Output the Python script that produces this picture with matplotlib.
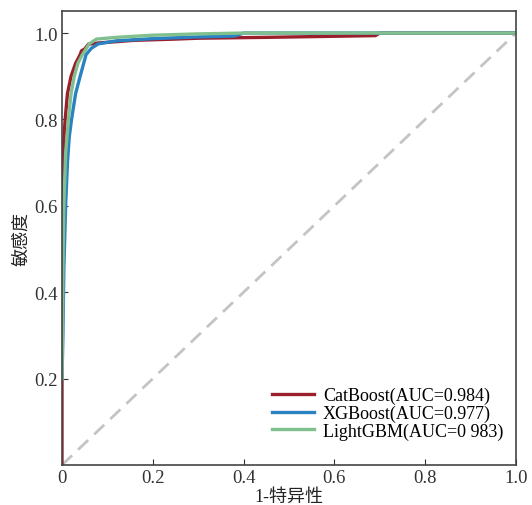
import numpy as np
import matplotlib
matplotlib.use('agg')
import matplotlib.pyplot as plt

plt.rcParams['font.family'] = ['Liberation Serif', 'Noto Sans CJK SC']

# ROC points
cat_fpr = [0, 0, 0.002, 0.005, 0.007, 0.012, 0.02, 0.03, 0.04, 0.043, 0.05, 0.058, 0.08, 0.12, 0.157, 0.25, 0.30, 0.45, 0.69, 0.70, 1.0]
cat_tpr = [0, 0.65, 0.72, 0.77, 0.80, 0.86, 0.90, 0.93, 0.95, 0.959, 0.963, 0.974, 0.977, 0.980, 0.983, 0.986, 0.988, 0.990, 0.994, 1.0, 1.0]

xgb_fpr = [0, 0.002, 0.004, 0.008, 0.012, 0.016, 0.021, 0.03, 0.04, 0.053, 0.065, 0.08, 0.12, 0.2, 0.3, 0.38, 0.40, 1.0]
xgb_tpr = [0.2, 0.3, 0.45, 0.6, 0.7, 0.76, 0.80, 0.86, 0.90, 0.95, 0.965, 0.975, 0.982, 0.987, 0.991, 0.993, 1.0, 1.0]

lgb_fpr = [0, 0.002, 0.004, 0.008, 0.014, 0.02, 0.027, 0.035, 0.045, 0.06, 0.076, 0.12, 0.2, 0.3, 0.4, 1.0]
lgb_tpr = [0.2, 0.45, 0.6, 0.72, 0.80, 0.86, 0.90, 0.93, 0.95, 0.975, 0.986, 0.99, 0.995, 0.998, 1.0, 1.0]

labels = ['CatBoost(AUC=0.984)', 'XGBoost(AUC=0.977)', 'LightGBM(AUC=0 983)']
colors = ['#9b1f2a', '#2b82c2', '#80c08e']

fig = plt.figure(figsize=(5.32, 5.06), dpi=100)
ax = fig.add_axes([62 / 532, 40 / 506, 454 / 532, 454 / 506])

ax.plot([0, 1], [0, 1], linestyle=(0, (5, 3)), color='#c4c4c4', lw=2)
ax.plot(cat_fpr, cat_tpr, color=colors[0], lw=2.4, label=labels[0])
ax.plot(xgb_fpr, xgb_tpr, color=colors[1], lw=2.4, label=labels[1])
ax.plot(lgb_fpr, lgb_tpr, color=colors[2], lw=2.4, label=labels[2])

ax.set_xlim(0, 1)
ax.set_ylim(0, 1.051)
ax.set_xticks([0, 0.2, 0.4, 0.6, 0.8, 1.0])
ax.set_xticklabels(['0', '0.2', '0.4', '0.6', '0.8', '1.0'])
ax.set_yticks([0.2, 0.4, 0.6, 0.8, 1.0])
ax.set_yticklabels(['0.2', '0.4', '0.6', '0.8', '1.0'])
ax.tick_params(direction='in', labelsize=13.5, colors='#333333', length=4, pad=3)
for s in ax.spines.values():
	s.set_color('#444444')
	s.set_linewidth(1.2)

ax.set_xlabel('1-特异性', fontsize=13, labelpad=1, color='#222222')
ax.set_ylabel('敏感度', fontsize=13, labelpad=3, color='#222222')

leg = ax.legend(loc='lower right', bbox_to_anchor=(1.0, 0.028), frameon=False, fontsize=13,
	handlelength=2.3, labelspacing=0.02, borderaxespad=0.3, handletextpad=0.5)

plt.savefig('out.png', dpi=100)
